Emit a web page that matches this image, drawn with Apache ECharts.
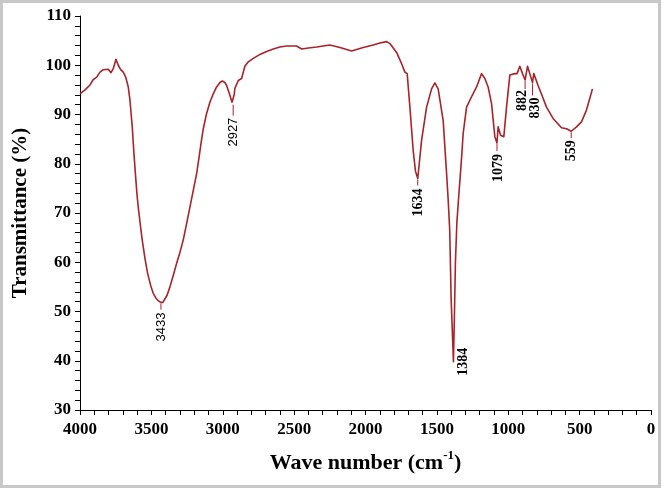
<!DOCTYPE html>
<html>
<head>
<meta charset="utf-8">
<script src="https://cdn.jsdelivr.net/npm/echarts@6/dist/echarts.min.js"></script>
<style>
html,body{margin:0;padding:0;background:#fff;}
#wrap{position:relative;width:663px;height:490px;}
#chart{position:absolute;left:0;top:0;width:663px;height:490px;}
#frame{position:absolute;left:0;top:0;width:661px;height:488px;box-sizing:border-box;border:3px solid #c8c8c8;pointer-events:none;}
</style>
</head>
<body>
<div id="wrap"><div id="chart"></div><div id="frame"></div></div>
<script>
// Spectrum data (wave number in cm-1, transmittance in %)
const waveNumbers = [
  4000, 3965, 3930, 3907, 3883, 3860, 3837, 3802, 3783, 3767, 3748, 3732, 3715, 3697, 3680, 3662, 3650, 3640, 3634, 3622,
  3612, 3600, 3592, 3575, 3564, 3545, 3526, 3505, 3487, 3470, 3452, 3433, 3418, 3405, 3390, 3370, 3345, 3323, 3300, 3277,
  3250, 3230, 3205, 3183, 3165, 3150, 3137, 3115, 3090, 3065, 3043, 3020, 3003, 2985, 2973, 2950, 2935, 2927, 2920, 2915,
  2891, 2868, 2856, 2845, 2821, 2786, 2739, 2693, 2646, 2600, 2553, 2483, 2447, 2400, 2342, 2249, 2179, 2097, 2016, 1946,
  1899, 1887, 1852, 1829, 1817, 1782, 1759, 1747, 1724, 1708, 1689, 1666, 1650, 1634, 1607, 1572, 1537, 1514, 1491, 1456,
  1432, 1421, 1410, 1400, 1384, 1378, 1370, 1360, 1348, 1335, 1325, 1316, 1292, 1257, 1222, 1187, 1164, 1141, 1117, 1094,
  1079, 1071, 1054, 1031, 1012, 989, 954, 938, 919, 900, 882, 865, 849, 830, 821, 791, 760, 732, 686, 627,
  592, 559, 522, 487, 452, 410
];
const transmittance = [
  94.2, 95.0, 96.0, 97.1, 97.6, 98.6, 99.1, 99.2, 98.5, 99.3, 101.2, 100.0, 99.1, 98.6, 97.6, 95.6, 92.9, 89.5, 87.5, 82.0,
  78.0, 73.5, 71.2, 67.0, 64.5, 60.8, 57.7, 55.3, 53.7, 52.8, 52.2, 51.8, 51.9, 52.3, 53.3, 55.0, 57.5, 59.8, 62.0, 64.5,
  68.3, 71.2, 74.8, 78.0, 81.5, 84.6, 87.0, 90.0, 92.5, 94.3, 95.6, 96.5, 96.8, 96.5, 95.9, 93.9, 92.5, 92.2, 94.0, 95.3,
  96.9, 97.3, 96.9, 99.8, 100.7, 101.4, 102.2, 102.8, 103.3, 103.7, 103.9, 103.9, 103.3, 103.5, 103.7, 104.1, 103.6, 102.9, 103.6, 104.1,
  104.5, 104.6, 104.8, 104.4, 104.1, 102.6, 101.1, 100.3, 98.6, 98.3, 91.5, 82.7, 78.5, 77.0, 84.8, 91.5, 95.2, 96.4, 95.2, 88.8,
  78.0, 72.8, 66.5, 52.5, 39.8, 48.0, 60.0, 68.0, 73.0, 78.0, 82.0, 86.1, 91.5, 93.6, 95.6, 98.3, 97.3, 95.6, 92.2, 85.5,
  84.2, 87.5, 85.8, 85.5, 91.5, 98.0, 98.3, 98.3, 99.8, 98.3, 97.0, 99.8, 98.3, 96.5, 98.3, 95.9, 93.6, 91.5, 89.2, 87.3,
  87.1, 86.6, 87.5, 88.5, 90.9, 95.2
];
// Annotated peaks
const peakWaves  = [3433, 2927, 1634, 1384, 1079, 882, 830, 559];
const peakValues = [51.8, 92.2, 77.0, 39.8, 84.2, 97.0, 96.5, 86.6];
const peakLabels = ['3433', '2927', '1634', '1384', '1079', '882', '830', '559'];
// Axis ticks
const xMin = 0, xMax = 4000, xStep = 500;
const yMin = 30, yMax = 110, yStep = 10;

// Annotation styling (offsets in px)
const SERIF = "'Liberation Serif','Times New Roman',serif";
const SANS = "'Liberation Sans',Arial,sans-serif";
const peakStyle = [
  {len: 7, dx: 0, gap: 3, font: 'normal 13px ' + SANS, side: false},
  {len: 12, dx: 0, gap: 2, font: 'normal 13px ' + SANS, side: false},
  {len: 7, dx: 1, gap: 3, font: 'bold 14px ' + SERIF, side: false},
  {len: 0, dx: 10, gap: 0, font: 'bold 14px ' + SERIF, side: true},
  {len: 8, dx: 1, gap: 3, font: 'bold 14px ' + SERIF, side: false},
  {len: 9, dx: -3, gap: 1, font: 'bold 14px ' + SERIF, side: false},
  {len: 13, dx: 3, gap: 2, font: 'bold 14px ' + SERIF, side: false},
  {len: 7, dx: 0, gap: 2, font: 'bold 14px ' + SERIF, side: false}
];
const LINE_COLOR = '#a8232a';

const chart = echarts.init(document.getElementById('chart'), null, {renderer: 'canvas'});
const option = {
  backgroundColor: '#fff',
  animation: false,
  grid: {left: 80, right: 12, top: 16, bottom: 80, containLabel: false},
  xAxis: {
    type: 'value', min: xMin, max: xMax, interval: xStep, inverse: true,
    name: '{a|Wave number (cm}{s|-1}{a|)}',
    nameLocation: 'middle', nameGap: 39,
    nameTextStyle: {
      rich: {
        a: {fontFamily: SERIF, fontWeight: 'bold', fontSize: 22, color: '#000', verticalAlign: 'bottom', lineHeight: 25},
        s: {fontFamily: SERIF, fontWeight: 'bold', fontSize: 13, color: '#000', verticalAlign: 'top', lineHeight: 25}
      }
    },
    axisLine: {show: true, onZero: false, lineStyle: {color: '#000', width: 1}},
    axisTick: {show: true, inside: false, length: 5, lineStyle: {color: '#000'}},
    minorTick: {show: true, splitNumber: 5, length: 5, lineStyle: {color: '#000'}},
    splitLine: {show: false},
    axisLabel: {fontFamily: SERIF, fontWeight: 'bold', fontSize: 17, color: '#000', margin: 11,
      formatter: function (v) { return String(v); }}
  },
  yAxis: {
    type: 'value', min: yMin, max: yMax, interval: yStep,
    name: 'Transmittance (%)',
    nameLocation: 'middle', nameGap: 49, nameRotate: 90,
    nameTextStyle: {fontFamily: SERIF, fontWeight: 'bold', fontSize: 21, color: '#000'},
    axisLine: {show: true, onZero: false, lineStyle: {color: '#000', width: 1}},
    axisTick: {show: true, inside: false, length: 5, lineStyle: {color: '#000'}},
    minorTick: {show: true, splitNumber: 5, length: 5, lineStyle: {color: '#000'}},
    splitLine: {show: false},
    axisLabel: {fontFamily: SERIF, fontWeight: 'bold', fontSize: 17, color: '#000', margin: 9,
      formatter: function (v) { return String(v); }}
  },
  series: [
    {
      type: 'line',
      data: waveNumbers.map((w, i) => [w, transmittance[i]]),
      showSymbol: false,
      smooth: false,
      lineStyle: {color: LINE_COLOR, width: 1.6, join: 'round'},
      z: 3
    },
    {
      type: 'custom',
      silent: true,
      clip: false,
      z: 5,
      data: peakWaves.map((w, i) => [w, peakValues[i], i]),
      renderItem: function (params, api) {
        const i = api.value(2);
        const p = api.coord([api.value(0), api.value(1)]);
        const s = peakStyle[i];
        const children = [];
        if (s.len > 0) {
          children.push({type: 'line', shape: {x1: p[0], y1: p[1] + 1, x2: p[0], y2: p[1] + s.len},
            style: {stroke: LINE_COLOR, lineWidth: 1}});
        }
        if (s.side) {
          children.push({type: 'text', x: p[0] + s.dx, y: p[1], rotation: Math.PI / 2,
            style: {text: peakLabels[i], font: s.font, fill: '#000', align: 'center', verticalAlign: 'middle'}});
        } else {
          children.push({type: 'text', x: p[0] + s.dx, y: p[1] + s.len + s.gap, rotation: Math.PI / 2,
            style: {text: peakLabels[i], font: s.font, fill: '#000', align: 'right', verticalAlign: 'middle'}});
        }
        return {type: 'group', children: children};
      }
    }
  ]
};
chart.setOption(option);
</script>
</body>
</html>
